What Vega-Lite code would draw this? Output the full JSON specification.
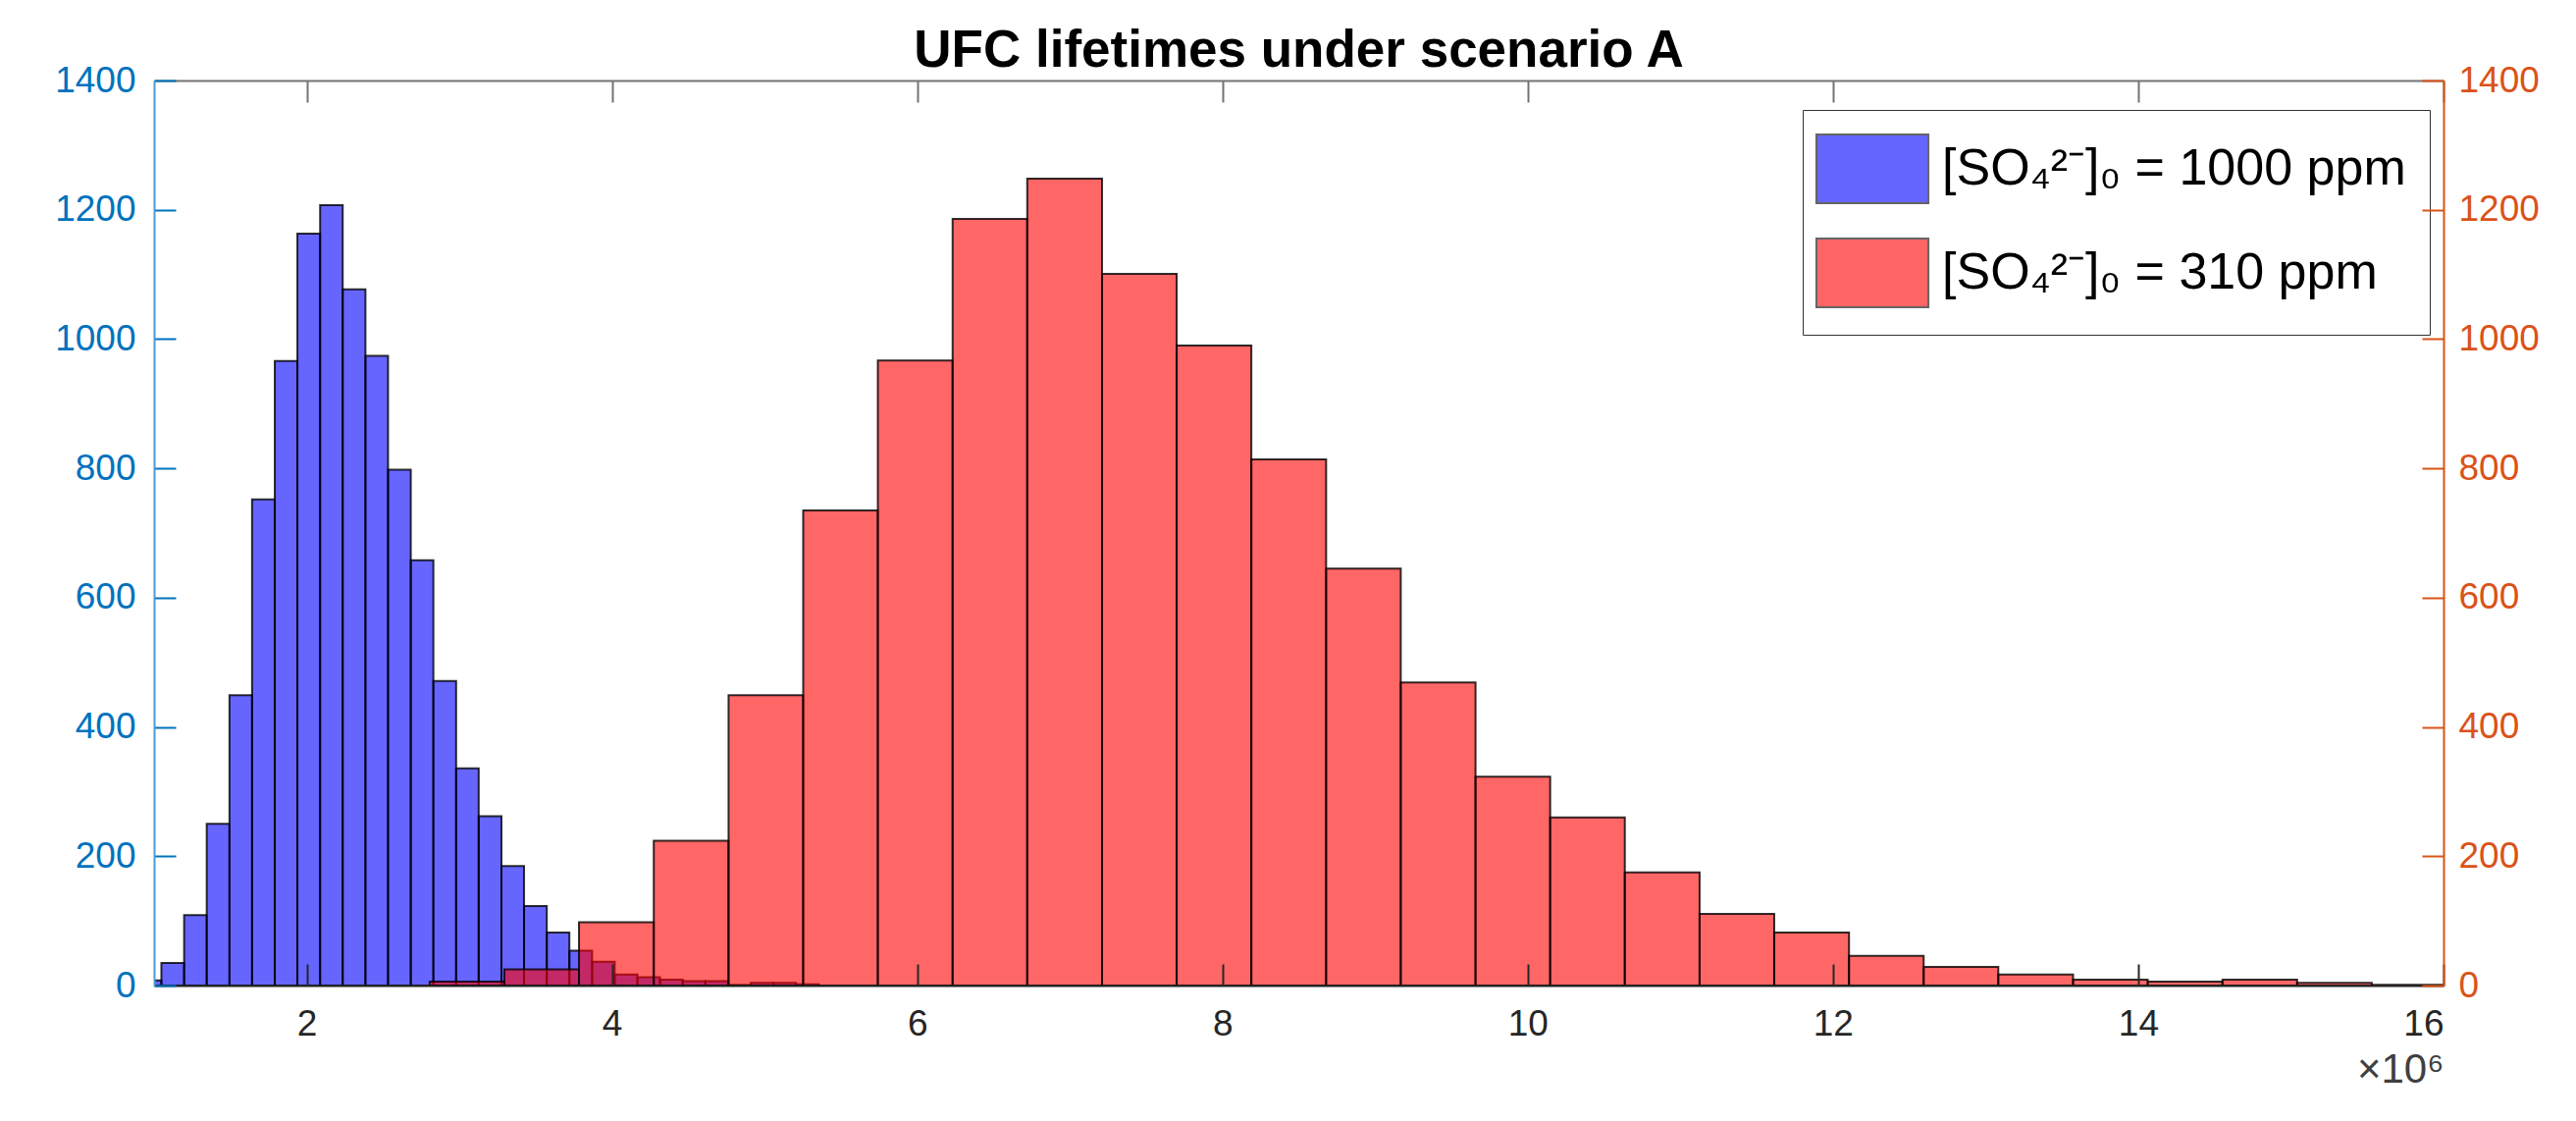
{
  "$schema": "https://vega.github.io/schema/vega-lite/v6.json",
  "width": 2333,
  "height": 922,
  "autosize": "none",
  "padding": {"left": 157, "top": 82, "right": 135, "bottom": 138},
  "background": "white",
  "title": {
    "text": "UFC lifetimes under scenario A",
    "font": "Liberation Sans",
    "fontSize": 53,
    "fontWeight": "bold",
    "color": "#000000",
    "anchor": "middle",
    "offset": -16
  },
  "datasets": {
    "ppm1000": [
      {"x0": 0.900, "x1": 1.048, "count": 8, "series": "[SO₄²⁻]₀ = 1000 ppm"},
      {"x0": 1.048, "x1": 1.197, "count": 35, "series": "[SO₄²⁻]₀ = 1000 ppm"},
      {"x0": 1.197, "x1": 1.345, "count": 109, "series": "[SO₄²⁻]₀ = 1000 ppm"},
      {"x0": 1.345, "x1": 1.494, "count": 250, "series": "[SO₄²⁻]₀ = 1000 ppm"},
      {"x0": 1.494, "x1": 1.642, "count": 449, "series": "[SO₄²⁻]₀ = 1000 ppm"},
      {"x0": 1.642, "x1": 1.791, "count": 752, "series": "[SO₄²⁻]₀ = 1000 ppm"},
      {"x0": 1.791, "x1": 1.939, "count": 966, "series": "[SO₄²⁻]₀ = 1000 ppm"},
      {"x0": 1.939, "x1": 2.088, "count": 1163, "series": "[SO₄²⁻]₀ = 1000 ppm"},
      {"x0": 2.088, "x1": 2.236, "count": 1207, "series": "[SO₄²⁻]₀ = 1000 ppm"},
      {"x0": 2.236, "x1": 2.385, "count": 1077, "series": "[SO₄²⁻]₀ = 1000 ppm"},
      {"x0": 2.385, "x1": 2.533, "count": 974, "series": "[SO₄²⁻]₀ = 1000 ppm"},
      {"x0": 2.533, "x1": 2.682, "count": 798, "series": "[SO₄²⁻]₀ = 1000 ppm"},
      {"x0": 2.682, "x1": 2.830, "count": 658, "series": "[SO₄²⁻]₀ = 1000 ppm"},
      {"x0": 2.830, "x1": 2.979, "count": 471, "series": "[SO₄²⁻]₀ = 1000 ppm"},
      {"x0": 2.979, "x1": 3.127, "count": 336, "series": "[SO₄²⁻]₀ = 1000 ppm"},
      {"x0": 3.127, "x1": 3.276, "count": 262, "series": "[SO₄²⁻]₀ = 1000 ppm"},
      {"x0": 3.276, "x1": 3.424, "count": 185, "series": "[SO₄²⁻]₀ = 1000 ppm"},
      {"x0": 3.424, "x1": 3.573, "count": 123, "series": "[SO₄²⁻]₀ = 1000 ppm"},
      {"x0": 3.573, "x1": 3.721, "count": 82, "series": "[SO₄²⁻]₀ = 1000 ppm"},
      {"x0": 3.721, "x1": 3.870, "count": 54, "series": "[SO₄²⁻]₀ = 1000 ppm"},
      {"x0": 3.870, "x1": 4.018, "count": 37, "series": "[SO₄²⁻]₀ = 1000 ppm"},
      {"x0": 4.018, "x1": 4.167, "count": 17, "series": "[SO₄²⁻]₀ = 1000 ppm"},
      {"x0": 4.167, "x1": 4.315, "count": 13, "series": "[SO₄²⁻]₀ = 1000 ppm"},
      {"x0": 4.315, "x1": 4.464, "count": 9, "series": "[SO₄²⁻]₀ = 1000 ppm"},
      {"x0": 4.464, "x1": 4.612, "count": 7, "series": "[SO₄²⁻]₀ = 1000 ppm"},
      {"x0": 4.612, "x1": 4.761, "count": 7, "series": "[SO₄²⁻]₀ = 1000 ppm"},
      {"x0": 4.761, "x1": 4.909, "count": 1, "series": "[SO₄²⁻]₀ = 1000 ppm"},
      {"x0": 4.909, "x1": 5.058, "count": 4, "series": "[SO₄²⁻]₀ = 1000 ppm"},
      {"x0": 5.058, "x1": 5.206, "count": 4, "series": "[SO₄²⁻]₀ = 1000 ppm"},
      {"x0": 5.206, "x1": 5.355, "count": 2, "series": "[SO₄²⁻]₀ = 1000 ppm"}
    ],
    "ppm310": [
      {"x0": 2.806, "x1": 3.295, "count": 6, "series": "[SO₄²⁻]₀ = 310 ppm"},
      {"x0": 3.295, "x1": 3.784, "count": 25, "series": "[SO₄²⁻]₀ = 310 ppm"},
      {"x0": 3.784, "x1": 4.274, "count": 98, "series": "[SO₄²⁻]₀ = 310 ppm"},
      {"x0": 4.274, "x1": 4.764, "count": 224, "series": "[SO₄²⁻]₀ = 310 ppm"},
      {"x0": 4.764, "x1": 5.253, "count": 449, "series": "[SO₄²⁻]₀ = 310 ppm"},
      {"x0": 5.253, "x1": 5.742, "count": 735, "series": "[SO₄²⁻]₀ = 310 ppm"},
      {"x0": 5.742, "x1": 6.232, "count": 967, "series": "[SO₄²⁻]₀ = 310 ppm"},
      {"x0": 6.232, "x1": 6.721, "count": 1186, "series": "[SO₄²⁻]₀ = 310 ppm"},
      {"x0": 6.721, "x1": 7.211, "count": 1248, "series": "[SO₄²⁻]₀ = 310 ppm"},
      {"x0": 7.211, "x1": 7.700, "count": 1101, "series": "[SO₄²⁻]₀ = 310 ppm"},
      {"x0": 7.700, "x1": 8.189, "count": 990, "series": "[SO₄²⁻]₀ = 310 ppm"},
      {"x0": 8.189, "x1": 8.679, "count": 814, "series": "[SO₄²⁻]₀ = 310 ppm"},
      {"x0": 8.679, "x1": 9.168, "count": 645, "series": "[SO₄²⁻]₀ = 310 ppm"},
      {"x0": 9.168, "x1": 9.658, "count": 469, "series": "[SO₄²⁻]₀ = 310 ppm"},
      {"x0": 9.658, "x1": 10.147, "count": 323, "series": "[SO₄²⁻]₀ = 310 ppm"},
      {"x0": 10.147, "x1": 10.636, "count": 260, "series": "[SO₄²⁻]₀ = 310 ppm"},
      {"x0": 10.636, "x1": 11.126, "count": 175, "series": "[SO₄²⁻]₀ = 310 ppm"},
      {"x0": 11.126, "x1": 11.615, "count": 111, "series": "[SO₄²⁻]₀ = 310 ppm"},
      {"x0": 11.615, "x1": 12.105, "count": 82, "series": "[SO₄²⁻]₀ = 310 ppm"},
      {"x0": 12.105, "x1": 12.594, "count": 46, "series": "[SO₄²⁻]₀ = 310 ppm"},
      {"x0": 12.594, "x1": 13.083, "count": 29, "series": "[SO₄²⁻]₀ = 310 ppm"},
      {"x0": 13.083, "x1": 13.573, "count": 17, "series": "[SO₄²⁻]₀ = 310 ppm"},
      {"x0": 13.573, "x1": 14.062, "count": 9, "series": "[SO₄²⁻]₀ = 310 ppm"},
      {"x0": 14.062, "x1": 14.552, "count": 6, "series": "[SO₄²⁻]₀ = 310 ppm"},
      {"x0": 14.552, "x1": 15.041, "count": 9, "series": "[SO₄²⁻]₀ = 310 ppm"},
      {"x0": 15.041, "x1": 15.530, "count": 4, "series": "[SO₄²⁻]₀ = 310 ppm"},
      {"x0": 15.530, "x1": 16.020, "count": 1, "series": "[SO₄²⁻]₀ = 310 ppm"}
    ]
  },
  "layer": [
    {
      "data": {"name": "ppm1000"},
      "mark": {
        "type": "bar",
        "clip": true,
        "fillOpacity": 0.6,
        "stroke": "#000000",
        "strokeOpacity": 0.8,
        "strokeWidth": 2
      },
      "encoding": {
        "x": {
          "field": "x0",
          "type": "quantitative",
          "scale": {"domain": [1, 16], "nice": false, "zero": false},
          "axis": {
            "orient": "bottom",
            "values": [2, 4, 6, 8, 10, 12, 14, 16],
            "title": "×10⁶",
            "titleAnchor": "end",
            "titleFont": "Liberation Sans",
            "titleFontSize": 42,
            "titleFontWeight": "normal",
            "titleColor": "#404040",
            "titlePadding": 8,
            "labelColor": "#262626",
            "labelFontSize": 37,
            "labelPadding": 43,
            "tickSize": -22,
            "tickColor": "#262626",
            "domainColor": "#262626",
            "zindex": 1
          }
        },
        "x2": {"field": "x1"},
        "y": {
          "field": "count",
          "type": "quantitative",
          "scale": {"domain": [0, 1400], "nice": false},
          "axis": {
            "orient": "left",
            "values": [0, 200, 400, 600, 800, 1000, 1200, 1400],
            "format": "d",
            "title": null,
            "labelColor": "#0072BD",
            "labelFontSize": 37,
            "labelPadding": 41,
            "tickSize": -22,
            "tickColor": "#0072BD",
            "domainColor": "#4d9ad4",
            "zindex": 1
          }
        },
        "y2": {"datum": 0},
        "color": {
          "field": "series",
          "type": "nominal",
          "scale": {
            "domain": ["[SO₄²⁻]₀ = 1000 ppm", "[SO₄²⁻]₀ = 310 ppm"],
            "range": ["#0000ff", "#ff0000"]
          },
          "legend": {
            "orient": "none",
            "legendX": 1680,
            "legendY": 30,
            "title": null,
            "symbolType": "M-1.63,-1H1.63V1H-1.63Z",
            "symbolSize": 4900,
            "symbolOffset": 11,
            "symbolOpacity": 0.6,
            "symbolStrokeColor": "#000000",
            "symbolStrokeWidth": 2,
            "labelFont": "Liberation Sans",
            "labelFontSize": 52,
            "labelColor": "#000000",
            "labelLimit": 2000,
            "labelOffset": 35,
            "rowPadding": 28,
            "padding": 24,
            "strokeColor": "#333333",
            "fillColor": "#ffffff"
          }
        }
      }
    },
    {
      "data": {"name": "ppm310"},
      "mark": {
        "type": "bar",
        "clip": true,
        "fillOpacity": 0.6,
        "stroke": "#000000",
        "strokeOpacity": 0.8,
        "strokeWidth": 2
      },
      "encoding": {
        "x": {
          "field": "x0",
          "type": "quantitative",
          "scale": {"domain": [1, 16], "nice": false, "zero": false},
          "axis": {
            "orient": "top",
            "values": [2, 4, 6, 8, 10, 12, 14, 16],
            "title": null,
            "labels": false,
            "tickSize": -22,
            "tickColor": "#737373",
            "domainColor": "#737373",
            "zindex": 1
          }
        },
        "x2": {"field": "x1"},
        "y": {
          "field": "count",
          "type": "quantitative",
          "scale": {"domain": [0, 1400], "nice": false},
          "axis": {
            "orient": "right",
            "values": [0, 200, 400, 600, 800, 1000, 1200, 1400],
            "format": "d",
            "title": null,
            "labelColor": "#D95319",
            "labelFontSize": 37,
            "labelPadding": 37,
            "tickSize": -22,
            "tickColor": "#D95319",
            "domainColor": "#D95319",
            "zindex": 1
          }
        },
        "y2": {"datum": 0},
        "color": {"field": "series", "type": "nominal"}
      }
    }
  ],
  "resolve": {
    "scale": {"y": "independent"},
    "axis": {"x": "independent", "y": "independent"}
  },
  "config": {
    "view": {"stroke": null},
    "font": "Liberation Sans",
    "axis": {
      "grid": false,
      "labelFont": "Liberation Sans",
      "tickWidth": 2,
      "domainWidth": 2
    }
  }
}
